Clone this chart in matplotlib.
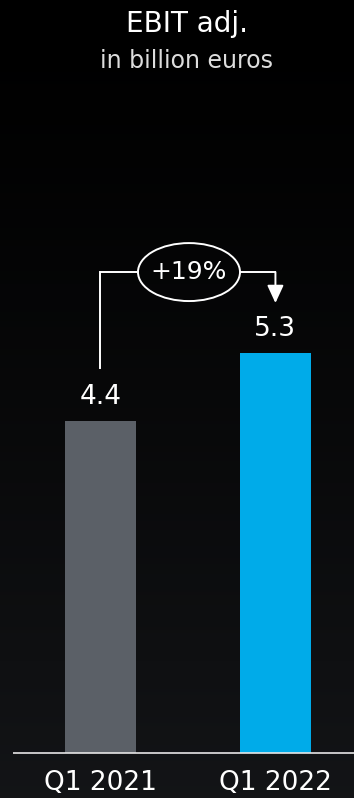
#
# EBIT adj. bar chart, Q1 2021 vs Q1 2022
#
import numpy as np
import matplotlib.pyplot as plt
from matplotlib.patches import Ellipse

# Data
categories = ['Q1 2021', 'Q1 2022']
values = [4.4, 5.3]
valueLabels = ['4.4', '5.3']
changeLabel = '+19%'
title = 'EBIT adj.'
subtitle = 'in billion euros'
barColors = ['#5b6067', '#00abe9']

W, H = 354, 798
fig = plt.figure(figsize=[W/100, H/100], dpi=100, facecolor='k')

# background gradient (black at top, dark grey at bottom)
bg = fig.add_axes([0, 0, 1, 1], zorder=0)
grad = np.linspace(0, 1, 256).reshape(-1, 1)
top = np.array([0.0, 0.0, 0.0])
bot = np.array([0.075, 0.08, 0.09])
img = top + (bot - top) * grad[..., None]**1.3
bg.imshow(img, aspect='auto', extent=[0, 1, 1, 0])
bg.axis('off')

# main axes, baseline at y=753 px
baseY = 753
ax = fig.add_axes([0, (H - baseY)/H, 1, baseY/H], zorder=1)
ax.patch.set_alpha(0)
ax.set_xlim(-0.574, 1.449)
ax.set_ylim(0, baseY/75.5)
ax.axis('off')

x = np.arange(len(categories))
ax.bar(x, values, width=0.406, color=barColors, zorder=2)
ax.plot([-0.5, 1.449], [0, 0], color='#e6e6e6', linewidth=1.2, zorder=3,
        clip_on=False, solid_capstyle='butt')

for xi, v, lab in zip(x, values, valueLabels):
    ax.text(xi, v + 0.225, lab, ha='center', va='baseline', color='w',
            fontsize=19)

for xi, c in zip(x, categories):
    ax.text(xi, -0.23, c, ha='center', va='top', color='w', fontsize=19)

# growth bracket with ellipse
yTop = max(values) + 1.07
xMid = (x[0] + x[1]) / 2 + 0.006
ew, eh = 0.583, 0.768
lc = 'w'
ax.plot([x[0], x[0], xMid - ew/2], [values[0] + 0.7, yTop, yTop],
        color=lc, linewidth=1.4, solid_joinstyle='miter')
ax.plot([xMid + ew/2, x[1]], [yTop, yTop],
        color=lc, linewidth=1.4, solid_capstyle='projecting')
ax.annotate('', xy=(x[1], values[1] + 0.66), xytext=(x[1], yTop),
            arrowprops=dict(arrowstyle='-|>,head_length=0.54,head_width=0.25',
                            mutation_scale=20, color=lc, linewidth=1.4,
                            shrinkA=0, shrinkB=0))
ax.add_patch(Ellipse((xMid, yTop), ew, eh, facecolor='none', edgecolor=lc,
                     linewidth=1.4))
ax.text(xMid, yTop, changeLabel, ha='center', va='center', color='w',
        fontsize=18)

# titles
fig.text(0.528, 1 - 24/H, title, ha='center', va='center', color='w',
         fontsize=20)
fig.text(0.528, 1 - 61/H, subtitle, ha='center', va='center',
         color='#dddddd', fontsize=17)

plt.savefig('out.png', dpi=100, facecolor='k')
plt.close()
